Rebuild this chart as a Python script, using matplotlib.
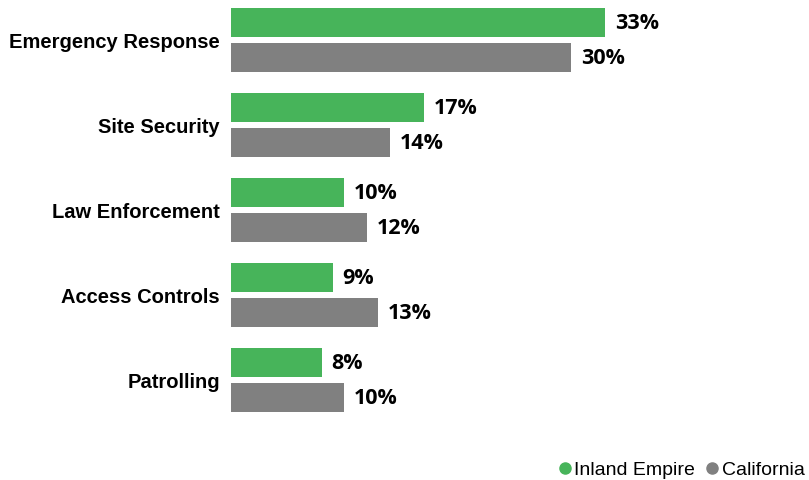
import numpy as np
import matplotlib.pyplot as plt
from matplotlib.lines import Line2D

categories = ["Emergency Response", "Site Security", "Law Enforcement", "Access Controls", "Patrolling"]
inland_empire = [33, 17, 10, 9, 8]
california = [30, 14, 12, 13, 10]
series_names = ["Inland Empire", "California"]

green = "#47b45a"
gray = "#808080"

fig = plt.figure(figsize=(8.09, 4.81), dpi=100)
# axes spans from the zero line at x=231px, top of figure down to ~425px
ax = fig.add_axes([231 / 809, 1 - 426 / 481, 567 / 809, 425 / 481])

y = np.arange(len(categories))
h = 0.34
off = 0.21
ax.barh(y - off, inland_empire, height=h, color=green)
ax.barh(y + off, california, height=h, color=gray)

for yi, v in zip(y - off, inland_empire):
    ax.text(v + 0.85, yi, f"{v}%", va="center", ha="left", fontsize=15.5,
            fontweight="bold", family="Open Sans")
for yi, v in zip(y + off, california):
    ax.text(v + 0.85, yi, f"{v}%", va="center", ha="left", fontsize=15.5,
            fontweight="bold", family="Open Sans")

ax.set_xlim(0, 50)
ax.set_ylim(4.53, -0.47)
ax.set_yticks(y)
ax.set_yticklabels(categories, fontsize=14.5, fontweight="bold", family="Liberation Sans")
ax.tick_params(axis="y", length=0, pad=8)
ax.set_xticks([])
for s in ax.spines.values():
    s.set_visible(False)

handles = [Line2D([], [], marker="o", linestyle="", color=c, markersize=8) for c in (green, gray)]
fig.legend(handles, series_names, loc="lower right", bbox_to_anchor=(1.016, -0.033),
           ncol=2, frameon=False, handletextpad=-0.5, columnspacing=-0.15,
           prop={"family": "Liberation Sans", "size": 14})

fig.savefig("out.png", dpi=100)
